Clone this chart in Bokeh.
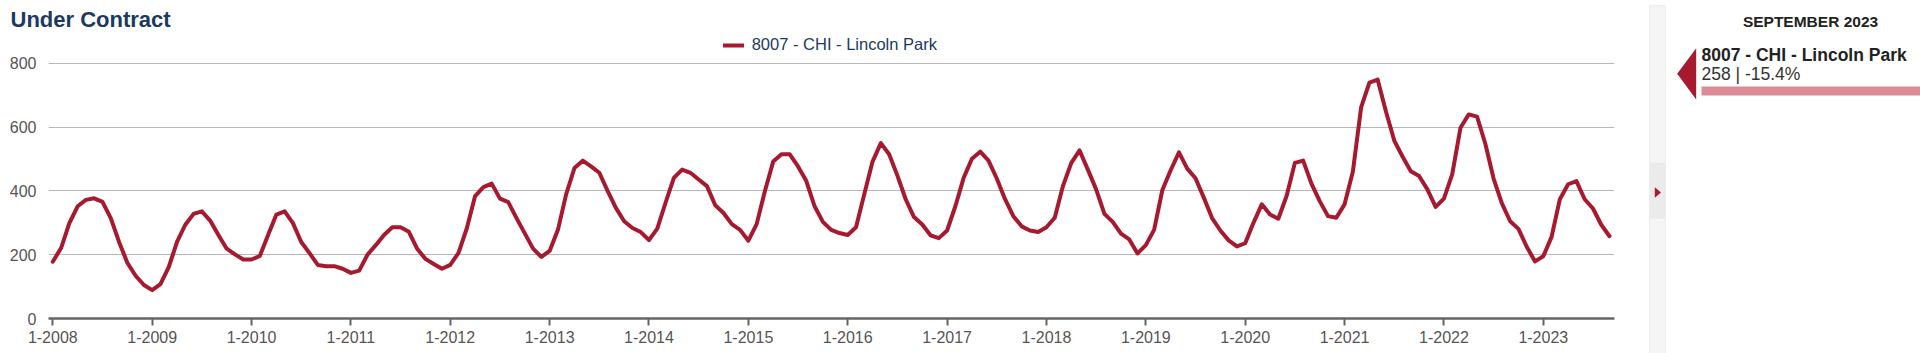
from bokeh.plotting import figure
from bokeh.models import Range1d, FixedTicker, Legend, LegendItem, ColumnDataSource
from bokeh.layouts import row
from bokeh.embed import file_html
from bokeh.resources import INLINE
from bokeh.core.properties import value

# ---------------- data ----------------
chart_title = "Under Contract"
series_name = "8007 - CHI - Lincoln Park"
start_year = 2008
month_names = ["JANUARY", "FEBRUARY", "MARCH", "APRIL", "MAY", "JUNE", "JULY",
               "AUGUST", "SEPTEMBER", "OCTOBER", "NOVEMBER", "DECEMBER"]

# monthly "under contract" counts, Jan 2008 .. Sep 2023
v2008 = [178, 221, 299, 352, 372, 377, 366, 315, 240, 175, 134, 105]
v2009 = [89, 108, 161, 240, 294, 328, 336, 307, 262, 219, 201, 185]
v2010 = [185, 196, 262, 326, 336, 299, 240, 205, 168, 164, 164, 156]
v2011 = [143, 150, 200, 230, 262, 286, 286, 272, 219, 187, 171, 156]
v2012 = [168, 206, 283, 384, 412, 423, 376, 365, 315, 267, 219, 193]
v2013 = [212, 278, 390, 472, 495, 477, 457, 400, 347, 305, 284, 271]
v2014 = [246, 282, 363, 441, 467, 457, 436, 415, 355, 331, 296, 278]
v2015 = [244, 296, 400, 492, 515, 515, 477, 431, 352, 303, 278, 268]
v2016 = [262, 286, 390, 492, 550, 515, 448, 374, 318, 295, 261, 252]
v2017 = [276, 352, 441, 501, 523, 495, 439, 374, 321, 289, 276, 271]
v2018 = [286, 316, 416, 488, 527, 467, 405, 328, 303, 266, 248, 204]
v2019 = [230, 278, 403, 465, 521, 470, 440, 379, 315, 276, 245, 226]
v2020 = [236, 300, 358, 326, 313, 384, 488, 495, 423, 368, 321, 316]
v2021 = [358, 460, 662, 740, 749, 649, 558, 508, 462, 447, 405, 350]
v2022 = [376, 452, 598, 640, 633, 548, 439, 361, 305, 281, 225, 179]
v2023 = [195, 256, 374, 421, 431, 374, 345, 294, 258]

tick_labels = ["1-2008", "1-2009", "1-2010", "1-2011", "1-2012", "1-2013", "1-2014",
               "1-2015", "1-2016", "1-2017", "1-2018", "1-2019", "1-2020", "1-2021",
               "1-2022", "1-2023"]
y_ticks = [0, 200, 400, 600, 800]

values = (v2008 + v2009 + v2010 + v2011 + v2012 + v2013 + v2014 + v2015 + v2016 +
          v2017 + v2018 + v2019 + v2020 + v2021 + v2022 + v2023)
months = list(range(len(values)))

# ---------------- styles ----------------
FONT = "Liberation Sans"
LINE = "#a6192e"
NAVY = "#1b3a61"
GRAY_TXT = "#555555"

src = ColumnDataSource(dict(m=months, v=values))

# frame: x 48..1614, y 34..318 (800 gridline lands at y=62)
p = figure(width=1640, height=353, output_backend="svg", toolbar_location=None,
           x_range=Range1d(-0.52, 188.6), y_range=Range1d(0, 887.5),
           min_border_left=48, min_border_right=26, min_border_top=34,
           min_border_bottom=35)
p.outline_line_color = None
p.background_fill_color = "white"
p.border_fill_color = "white"
if "frame_align" in p.properties():
    p.frame_align = False

r = p.line(x="m", y="v", source=src, line_color=LINE, line_width=4,
           line_join="round", line_cap="round")

# title
p.title.text = chart_title
p.title.align = "left"
p.title.offset = -38
p.title.standoff = 8
p.title.text_font = FONT
p.title.text_font_size = "22px"
p.title.text_font_style = "bold"
p.title.text_color = NAVY

# axes
p.xaxis.ticker = FixedTicker(ticks=[12 * k for k in range(len(tick_labels))])
p.xaxis.major_label_overrides = {12 * k: lab for k, lab in enumerate(tick_labels)}
p.xaxis.axis_line_color = "#666666"
p.xaxis.axis_line_width = 2.5
p.xaxis.major_tick_line_color = "#666666"
p.xaxis.major_tick_line_width = 2
p.xaxis.major_tick_out = 7
p.xaxis.major_tick_in = 0
p.xaxis.minor_tick_line_color = None
p.xaxis.major_label_standoff = 5
p.xaxis.major_label_text_font = FONT
p.xaxis.major_label_text_font_size = "16px"
p.xaxis.major_label_text_color = GRAY_TXT

p.yaxis.ticker = FixedTicker(ticks=y_ticks)
p.yaxis.axis_line_color = None
p.yaxis.major_tick_line_color = None
p.yaxis.minor_tick_line_color = None
p.yaxis.major_tick_out = 0
p.yaxis.major_tick_in = 0
p.yaxis.major_label_standoff = 12
p.yaxis.major_label_text_font = FONT
p.yaxis.major_label_text_font_size = "16px"
p.yaxis.major_label_text_color = GRAY_TXT

p.xgrid.visible = False
p.ygrid.grid_line_color = "#b8b8b8"
p.ygrid.grid_line_width = 1

# legend (inside the frame, above the 800 gridline)
legend = Legend(items=[LegendItem(label=series_name, renderers=[r])],
                location=(674.7, 263.3), orientation="horizontal",
                padding=0, margin=0, border_line_color=None,
                background_fill_alpha=0, glyph_width=21, glyph_height=20,
                label_standoff=8, label_text_font=FONT, label_text_font_size="16.5px",
                label_text_color=NAVY, label_height=20)
p.add_layout(legend)

# ---------------- side panel ----------------
last_idx = len(values) - 1
period_label = f"{month_names[last_idx % 12]} {start_year + last_idx // 12}"
last_val = values[-1]
yoy = (values[-1] / values[-13] - 1) * 100
value_label = f"{last_val} | {yoy:.1f}%"

p2 = figure(width=280, height=353, output_backend="svg", toolbar_location=None,
            x_range=Range1d(0, 280), y_range=Range1d(353, 0),
            x_axis_location=None, y_axis_location=None, min_border=0)
p2.grid.visible = False
p2.outline_line_color = None
p2.background_fill_color = "white"
p2.border_fill_color = "white"
if "frame_align" in p2.properties():
    p2.frame_align = False

# scroll strip
p2.quad(left=[9], right=[25], top=[5], bottom=[353], fill_color="#f5f5f5",
        line_color="#eeeeee", line_width=1)
p2.quad(left=[9.5], right=[24.5], top=[162], bottom=[218], fill_color="#ebebeb",
        line_color=None)
p2.patch(x=[14.3, 20.5, 14.3], y=[186.7, 192, 197.3], fill_color=LINE, line_color=None)

p2.text(x=[170], y=[20.5], text=[period_label], text_align="center",
        text_baseline="alphabetic", text_font=value(FONT), text_font_style="bold",
        text_font_size="15.5px", text_color="#222222")

# red pointer
p2.patch(x=[36.7, 55.7, 55.7], y=[73.3, 47.7, 99], fill_color=LINE, line_color=None)

p2.text(x=[61], y=[54], text=[series_name], text_align="left",
        text_baseline="alphabetic", text_font=value(FONT), text_font_style="bold",
        text_font_size="17.5px", text_color="#222222")
p2.text(x=[61], y=[73.5], text=[value_label], text_align="left",
        text_baseline="alphabetic", text_font=value(FONT),
        text_font_size="17.5px", text_color="#333333")
p2.quad(left=[61], right=[280], top=[86], bottom=[95], fill_color="#db8c96",
        line_color=None)

layout = row(p, p2)
open("out.html", "w").write(file_html(layout, INLINE))
